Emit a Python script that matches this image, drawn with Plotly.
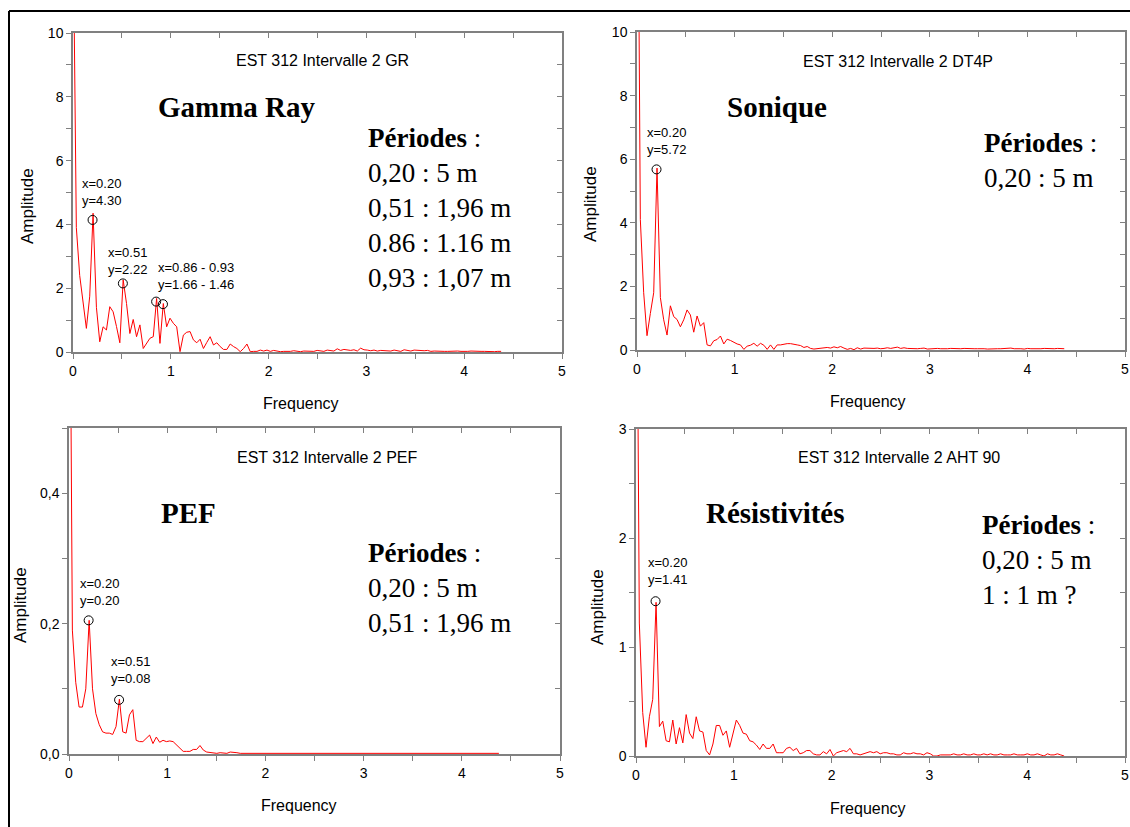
import numpy as np
import plotly.graph_objects as go

W, H = 1130, 827

# ---------------- data ----------------
freq = np.round(np.arange(129) * 0.0342, 4)

gr_amp = [14, 3.9, 2.4, 1.5, 0.74, 1.75, 4.35, 1.4, 0.32, 0.79,
          0.69, 1.42, 1.26, 0.8, 0.29, 2.26, 1.52, 0.58, 1.02, 0.48,
          0.85, 0.11, 0.27, 0.43, 0.48, 1.68, 0.27, 1.52, 0.79, 1.06,
          0.9, 0.79, 0.01, 0.53, 0.62, 0.64, 0.38, 0.29, 0.4, 0.11,
          0.3, 0.48, 0.22, 0.29, 0.17, 0.08, 0.08, 0.25, 0.17, 0.11,
          0.01, 0.11, 0.25, 0.01, 0.02, 0.02, 0.06, 0.03, 0.06, 0.02,
          0.05, 0.03, 0.01, 0.02, 0.01, 0.02, 0.04, 0.02, 0.01, 0.03,
          0.02, 0.03, 0.02, 0.05, 0.03, 0.02, 0.06, 0.04, 0.03, 0.1,
          0.05, 0.08, 0.06, 0.05, 0.07, 0.03, 0.12, 0.07, 0.06, 0.04,
          0.06, 0.03, 0.05, 0.04, 0.02, 0.03, 0.06, 0.04, 0.02, 0.07,
          0.04, 0.03, 0.06, 0.05, 0.06, 0.04, 0.05, 0.02, 0.03, 0.02,
          0.03, 0.02, 0.02, 0.03, 0.02, 0.03, 0.02, 0.01, 0.02, 0.03,
          0.02, 0.01, 0.02, 0.02, 0.01, 0.02, 0.01, 0.02, 0.02]

dt_amp = [20, 4.1, 1.8, 0.45, 1.15, 1.8, 5.72, 1.65, 0.95, 0.47,
          1.39, 1.05, 0.96, 0.73, 0.95, 1.26, 1.1, 0.56, 1.07, 0.75,
          0.86, 0.16, 0.13, 0.29, 0.33, 0.44, 0.19, 0.34, 0.3, 0.24,
          0.19, 0.16, 0.02, 0.12, 0.15, 0.21, 0.12, 0.21, 0.15, 0.02,
          0.16, 0.02, 0.16, 0.16, 0.19, 0.2, 0.2, 0.19, 0.16, 0.14,
          0.08, 0.11, 0.05, 0.03, 0.04, 0.05, 0.07, 0.08, 0.06, 0.1,
          0.07, 0.11, 0.06, 0.02, 0.05, 0.01, 0.07, 0.03, 0.06, 0.05,
          0.04, 0.05, 0.06, 0.04, 0.05, 0.07, 0.05, 0.06, 0.09, 0.05,
          0.07, 0.05, 0.04, 0.05, 0.04, 0.05, 0.06, 0.03, 0.04, 0.06,
          0.05, 0.04, 0.03, 0.04, 0.05, 0.04, 0.03, 0.04, 0.05, 0.04,
          0.05, 0.04, 0.04, 0.05, 0.04, 0.03, 0.04, 0.05, 0.04, 0.04,
          0.05, 0.04, 0.06, 0.04, 0.05, 0.04, 0.03, 0.05, 0.04, 0.04,
          0.02, 0.04, 0.05, 0.04, 0.05, 0.04, 0.05, 0.04, 0.04]

pef_amp = [1.0, 0.19, 0.11, 0.072, 0.072, 0.1, 0.205, 0.1, 0.062, 0.045,
           0.034, 0.032, 0.032, 0.03, 0.042, 0.084, 0.034, 0.032, 0.06, 0.068,
           0.021, 0.019, 0.019, 0.024, 0.029, 0.016, 0.026, 0.018, 0.021, 0.019,
           0.02, 0.019, 0.014, 0.009, 0.004, 0.004, 0.004, 0.007, 0.007, 0.013,
           0.006, 0.003, 0.002, 0.002, 0.001, 0.002, 0.002, 0.001, 0.003, 0.003,
           0.002, 0.001, 0.001, 0.001, 0.002, 0.002, 0.001, 0.001, 0.001, 0.001,
           0.001, 0.002, 0.001, 0.001, 0.001, 0.001, 0.002, 0.001, 0.001, 0.001,
           0.001, 0.001, 0.001, 0.001, 0.002, 0.001, 0.001, 0.001, 0.002, 0.001,
           0.001, 0.001, 0.001, 0.001, 0.001, 0.001, 0.001, 0.001, 0.001, 0.001,
           0.001, 0.001, 0.001, 0.001, 0.001, 0.001, 0.001, 0.001, 0.001, 0.001,
           0.001, 0.001, 0.001, 0.001, 0.001, 0.001, 0.001, 0.001, 0.001, 0.001,
           0.001, 0.001, 0.001, 0.001, 0.001, 0.001, 0.001, 0.001, 0.001, 0.001,
           0.001, 0.001, 0.001, 0.001, 0.001, 0.001, 0.001, 0.001, 0.001]

res_amp = [6, 1.22, 0.4, 0.08, 0.36, 0.52, 1.41, 0.27, 0.32, 0.14,
           0.13, 0.33, 0.11, 0.26, 0.12, 0.38, 0.21, 0.16, 0.36, 0.23,
           0.22, 0.05, 0.01, 0.11, 0.28, 0.28, 0.19, 0.23, 0.08, 0.21,
           0.33, 0.28, 0.21, 0.2, 0.14, 0.13, 0.1, 0.06, 0.11, 0.07,
           0.07, 0.11, 0.03, 0.03, 0.03, 0.07, 0.08, 0.05, 0.07, 0.02,
           0.03, 0.05, 0.05, 0.02, 0.01, 0.01, 0.04, 0.02, 0.06, 0.0,
           0.03, 0.04, 0.05, 0.04, 0.07, 0.02, 0.02, 0.01, 0.02, 0.03,
           0.04, 0.03, 0.04, 0.02, 0.03, 0.03, 0.02, 0.02, 0.01, 0.01,
           0.03, 0.02, 0.02, 0.03, 0.02, 0.02, 0.01, 0.03, 0.02, 0.0,
           0.0, 0.01, 0.01, 0.01, 0.01, 0.02, 0.01, 0.01, 0.02, 0.01,
           0.01, 0.02, 0.01, 0.01, 0.02, 0.01, 0.02, 0.01, 0.01, 0.02,
           0.01, 0.01, 0.01, 0.02, 0.01, 0.01, 0.01, 0.02, 0.01, 0.01,
           0.02, 0.01, 0.0, 0.02, 0.01, 0.01, 0.02, 0.01, 0.0]

# picked peaks (circles)
gr_peak_x = [0.20, 0.51, 0.85, 0.92]
gr_peak_y = [4.14, 2.15, 1.58, 1.50]
dt_peak_x = [0.20]
dt_peak_y = [5.68]
pef_peak_x = [0.20, 0.51]
pef_peak_y = [0.205, 0.083]
res_peak_x = [0.20]
res_peak_y = [1.42]

titles = ["EST 312 Intervalle 2 GR", "EST 312 Intervalle 2 DT4P",
          "EST 312 Intervalle 2 PEF", "EST 312 Intervalle 2 AHT 90"]
names = ["Gamma Ray", "Sonique", "PEF", "Résistivités"]
periods = [["0,20 : 5 m", "0,51 : 1,96 m", "0.86 : 1.16 m", "0,93 : 1,07 m"],
           ["0,20 : 5 m"],
           ["0,20 : 5 m", "0,51 : 1,96 m"],
           ["0,20 : 5 m", "1 : 1 m ?"]]
peak_labels = [[("x=0.20<br>y=4.30", 80, 192), ("x=0.51<br>y=2.22", 106, 261),
                ("x=0.86 - 0.93<br>y=1.66 - 1.46", 156, 276)],
               [("x=0.20<br>y=5.72", 645, 141)],
               [("x=0.20<br>y=0.20", 78, 592), ("x=0.51<br>y=0.08", 109, 670)],
               [("x=0.20<br>y=1.41", 646, 571)]]

x_ticks = [0, 1, 2, 3, 4, 5]
y_ticks = [[0, 2, 4, 6, 8, 10], [0, 2, 4, 6, 8, 10], [0, 0.2, 0.4], [0, 1, 2, 3]]
y_ticktext = [["0", "2", "4", "6", "8", "10"], ["0", "2", "4", "6", "8", "10"],
              ["0,0", "0,2", "0,4"], ["0", "1", "2", "3"]]
y_minor = [1, 1, 0.1, 0.5]
yranges = [[0, 10], [0, 10], [0, 0.5], [0, 3]]

# ---------------- layout helpers ----------------
def px(x):
    return x / W

def py(y):
    return 1 - y / H

SANS = "Liberation Sans, Arial, sans-serif"
SERIF = "Liberation Serif, Times New Roman, serif"
RED = "#ff0000"
GREY = "#808080"

# panel pixel boxes: (x0, x1, ytop, ybottom)
boxes = [(73, 562, 33, 352), (637, 1125, 32, 350), (69, 560, 428, 754), (636, 1125, 429, 756)]

fig = go.Figure()
series = [gr_amp, dt_amp, pef_amp, res_amp]
peaks = [(gr_peak_x, gr_peak_y), (dt_peak_x, dt_peak_y), (pef_peak_x, pef_peak_y), (res_peak_x, res_peak_y)]

for k in range(4):
    suf = "" if k == 0 else str(k + 1)
    fig.add_trace(go.Scatter(x=freq, y=series[k], mode="lines",
                             line=dict(color=RED, width=1),
                             xaxis="x" + suf, yaxis="y" + suf, showlegend=False))
    fig.add_trace(go.Scatter(x=peaks[k][0], y=peaks[k][1], mode="markers",
                             marker=dict(symbol="circle-open", size=9, color="black",
                                         line=dict(width=1, color="black")),
                             xaxis="x" + suf, yaxis="y" + suf, showlegend=False))
    # empty traces binding the mirror (inside-tick) axes
    fig.add_trace(go.Scatter(x=[None], y=[None], xaxis="x%d" % (5 + k), yaxis="y" + suf,
                             showlegend=False, hoverinfo="skip"))
    fig.add_trace(go.Scatter(x=[None], y=[None], xaxis="x" + suf, yaxis="y%d" % (5 + k),
                             showlegend=False, hoverinfo="skip"))

layout = dict(width=W, height=H, autosize=False,
              margin=dict(l=0, r=0, t=0, b=0, pad=0, autoexpand=False),
              paper_bgcolor="white", plot_bgcolor="white",
              showlegend=False)

axis_common = dict(showline=True, linecolor=GREY, linewidth=1.5, mirror=True,
                   ticks="outside", ticklen=5, tickcolor=GREY, tickwidth=1,
                   showgrid=False, zeroline=False, automargin=False,
                   tickfont=dict(family=SANS, size=14, color="black"))
mirror_common = dict(showline=False, showgrid=False, zeroline=False, automargin=False,
                     showticklabels=False, ticks="inside", ticklen=5, tickcolor=GREY, tickwidth=1)

for k in range(4):
    x0, x1, yt, yb = boxes[k]
    xa = "xaxis" if k == 0 else "xaxis%d" % (k + 1)
    ya = "yaxis" if k == 0 else "yaxis%d" % (k + 1)
    yref = "y" if k == 0 else "y%d" % (k + 1)
    xref = "x" if k == 0 else "x%d" % (k + 1)
    xdom = [px(x0), px(x1)]
    ydom = [py(yb), py(yt)]
    layout[xa] = dict(axis_common, domain=xdom, range=[0, 5],
                      tickvals=x_ticks, anchor=yref, ticklabeloverflow="allow",
                      minor=dict(dtick=0.5, ticks="outside", ticklen=5, tickcolor=GREY))
    layout[ya] = dict(axis_common, domain=ydom, range=yranges[k],
                      tickvals=y_ticks[k], ticktext=y_ticktext[k], anchor=xref,
                      ticklabeloverflow="allow",
                      minor=dict(dtick=y_minor[k], ticks="outside", ticklen=5, tickcolor=GREY))
    layout["xaxis%d" % (5 + k)] = dict(mirror_common, domain=xdom, range=[0, 5],
                                      overlaying=xref, side="top", anchor=yref,
                                      tickvals=x_ticks,
                                      minor=dict(dtick=0.5, ticks="inside", ticklen=5, tickcolor=GREY))
    layout["yaxis%d" % (5 + k)] = dict(mirror_common, domain=ydom, range=yranges[k],
                                      overlaying=yref, side="right", anchor=xref,
                                      tickvals=y_ticks[k],
                                      minor=dict(dtick=y_minor[k], ticks="inside", ticklen=5, tickcolor=GREY))

fig.update_layout(**layout)

ann = []
title_pos = [(322, 60), (898, 62), (327, 458), (899, 457)]
name_pos = [(237, 107), (777, 107), (188, 513), (775, 513)]
per_pos = [(366, 208), (982, 160), (366, 588), (980, 560)]
amp_pos = [(27, 206), (590, 204), (20, 605), (597, 607)]
freq_pos = [(301, 403), (868, 402), (299, 805), (868, 808)]

for k in range(4):
    ann.append(dict(text=titles[k], x=px(title_pos[k][0]), y=py(title_pos[k][1]),
                    xref="paper", yref="paper", showarrow=False,
                    xanchor="center", yanchor="middle",
                    font=dict(family=SANS, size=16, color="black")))
    ann.append(dict(text="<b>%s</b>" % names[k], x=px(name_pos[k][0]), y=py(name_pos[k][1]),
                    xref="paper", yref="paper", showarrow=False,
                    xanchor="center", yanchor="middle",
                    font=dict(family=SERIF, size=29, color="black")))
    txt = "<b>Périodes</b> :<br>" + "<br>".join(periods[k])
    ann.append(dict(text=txt, x=px(per_pos[k][0]), y=py(per_pos[k][1]),
                    xref="paper", yref="paper", showarrow=False, align="left",
                    xanchor="left", yanchor="middle",
                    font=dict(family=SERIF, size=27, color="black")))
    ann.append(dict(text="Amplitude", x=px(amp_pos[k][0]), y=py(amp_pos[k][1]),
                    xref="paper", yref="paper", showarrow=False, textangle=-90,
                    xanchor="center", yanchor="middle",
                    font=dict(family=SANS, size=17, color="black")))
    ann.append(dict(text="Frequency", x=px(freq_pos[k][0]), y=py(freq_pos[k][1]),
                    xref="paper", yref="paper", showarrow=False,
                    xanchor="center", yanchor="middle",
                    font=dict(family=SANS, size=16, color="black")))
    for (t, lx, ly) in peak_labels[k]:
        ann.append(dict(text=t, x=px(lx), y=py(ly), xref="paper", yref="paper",
                        showarrow=False, align="left", xanchor="left", yanchor="middle",
                        font=dict(family=SANS, size=13, color="black")))

shapes = [
    dict(type="line", xref="paper", yref="paper", x0=px(9), x1=1, y0=py(11), y1=py(11),
         line=dict(color="black", width=2)),
    dict(type="line", xref="paper", yref="paper", x0=px(9), x1=px(9), y0=py(11), y1=0,
         line=dict(color="black", width=2)),
]

fig.update_layout(annotations=ann, shapes=shapes)
fig.write_html("out.html", config={"displayModeBar": False},
               post_script="document.body.style.margin='0';document.body.style.overflow='hidden';")
